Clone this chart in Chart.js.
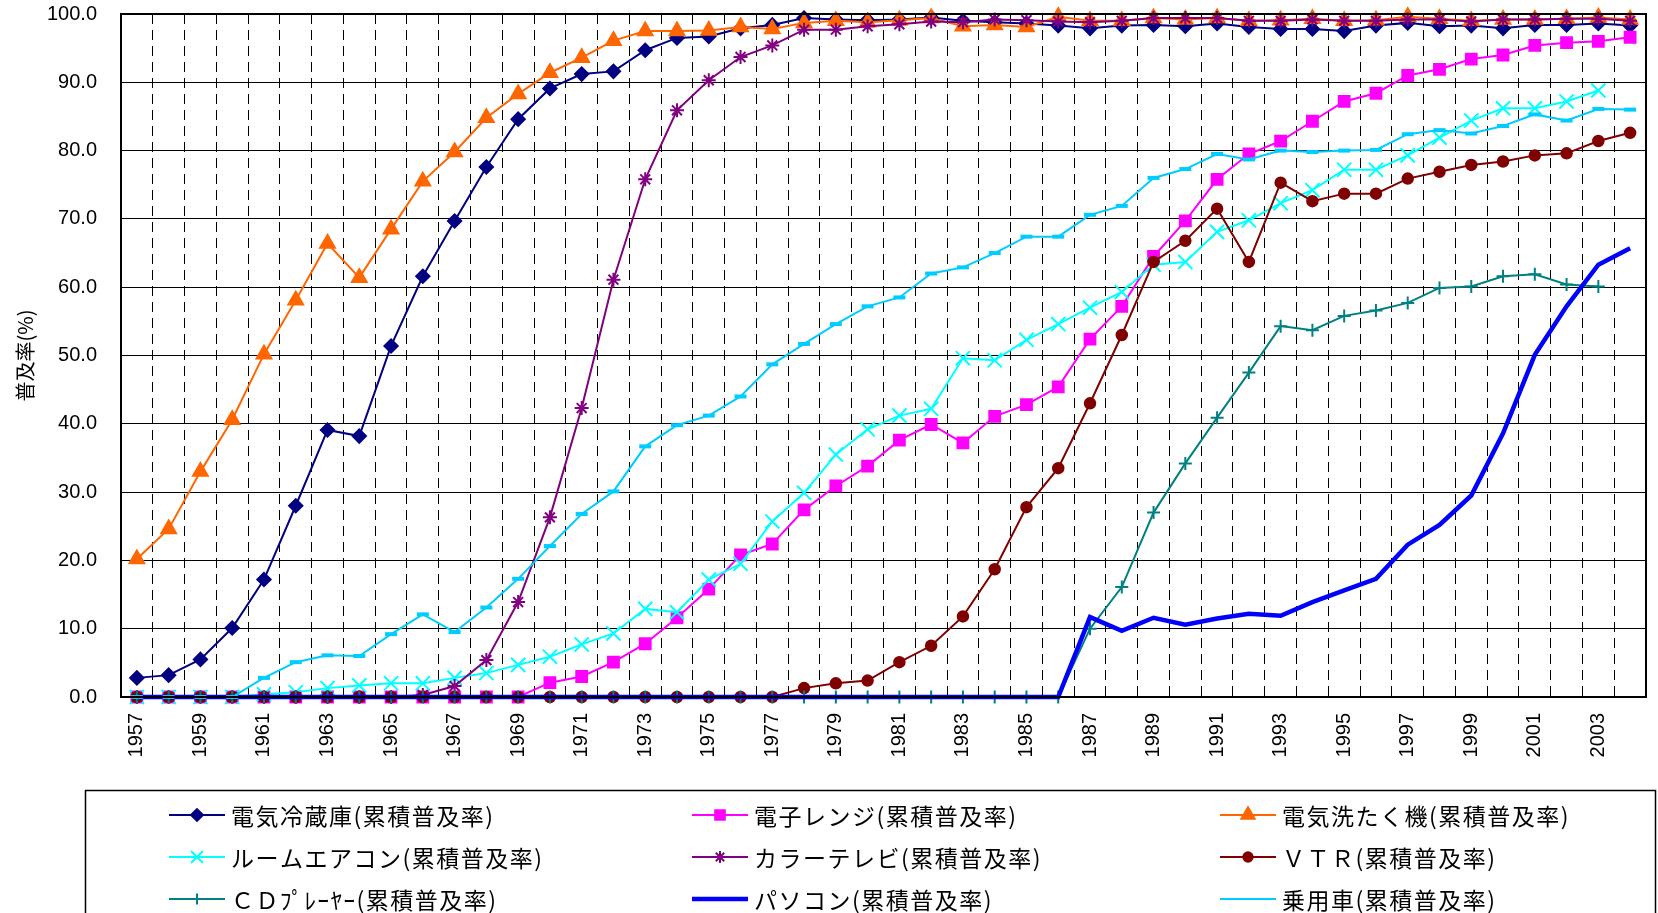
<!DOCTYPE html>
<html>
<head>
<meta charset="utf-8">
<script src="https://cdn.jsdelivr.net/npm/chart.js@4"></script>
<style>
  html, body { margin: 0; padding: 0; background: #fff; }
  #wrap { width: 1658px; height: 913px; }
</style>
</head>
<body>
<div id="wrap"><canvas id="fukyuChart" width="1658" height="913"></canvas></div>
<script>
/* ---- years ---- */
const years = [
  "1957","1958","1959","1960","1961","1962","1963","1964","1965","1966",
  "1967","1968","1969","1970","1971","1972","1973","1974","1975","1976",
  "1977","1978","1979","1980","1981","1982","1983","1984","1985","1986",
  "1987","1988","1989","1990","1991","1992","1993","1994","1995","1996",
  "1997","1998","1999","2000","2001","2002","2003","2004"
];

/* ---- series (%) ---- */
const reizouko = [2.8,3.2,5.5,10.1,17.2,28.0,39.1,38.2,51.4,61.6,
  69.7,77.6,84.6,89.1,91.2,91.6,94.7,96.5,96.7,97.9,
  98.4,99.4,99.2,99.1,99.2,99.5,99.0,98.8,98.6,98.3,
  97.9,98.3,98.4,98.2,98.6,98.1,97.8,97.8,97.5,98.3,
  98.7,98.2,98.3,97.9,98.4,98.4,98.6,98.3];
const renji = [0,0,0,0,0,0,0,0,0,0,
  0,0,0,2.1,3.0,5.1,7.8,11.6,15.8,20.8,
  22.4,27.4,30.9,33.8,37.6,39.9,37.2,41.1,42.8,45.4,
  52.4,57.2,64.5,69.7,75.8,79.5,81.4,84.3,87.2,88.4,
  91.0,91.9,93.4,94.0,95.4,95.8,96.0,96.6];
const sentakuki = [20.2,24.6,33.0,40.6,50.2,58.1,66.4,61.4,68.5,75.5,
  79.8,84.8,88.3,91.4,93.6,96.1,97.5,97.5,97.6,98.1,
  97.8,98.7,99.0,98.8,99.1,99.4,98.2,98.4,98.1,99.6,
  99.0,99.0,99.4,99.2,99.4,99.0,99.1,99.3,99.0,99.1,
  99.6,99.3,99.0,99.2,99.2,99.3,99.5,99.2];
const aircon = [0,0,0,0,0.4,0.7,1.3,1.7,2.0,2.0,
  2.8,3.5,4.7,5.9,7.7,9.3,12.9,12.4,17.2,19.5,
  25.7,29.9,35.5,39.2,41.2,42.2,49.6,49.3,52.3,54.6,
  57.0,59.3,63.3,63.7,68.1,69.8,72.3,74.2,77.2,77.2,
  79.3,81.9,84.4,86.2,86.2,87.2,88.8,null];
const colorTv = [0,0,0,0,0,0,0,0,0,0.3,
  1.6,5.4,13.9,26.3,42.3,61.1,75.8,85.9,90.3,93.7,
  95.4,97.7,97.7,98.2,98.5,98.9,98.8,99.2,99.1,98.9,
  98.8,99.0,99.4,99.4,99.4,99.0,99.0,99.2,99.0,99.0,
  99.2,99.2,98.9,99.2,99.2,99.3,99.3,99.0];
const vtr = [0,0,0,0,0,0,0,0,0,0,
  0,0,0,0,0,0,0,0,0,0,
  0,1.3,2.0,2.4,5.1,7.5,11.8,18.7,27.8,33.5,
  43.0,53.0,63.7,66.8,71.5,63.7,75.3,72.6,73.7,73.7,
  75.9,76.9,77.9,78.4,79.3,79.6,81.4,82.6];
const cdPlayer = [0,0,0,0,0,0,0,0,0,0,
  0,0,0,0,0,0,0,0,0,0,
  0,0,0,0,0,0,0,0,0,0,
  10.0,16.1,27.0,34.2,40.9,47.5,54.3,53.7,55.8,56.6,
  57.7,59.9,60.1,61.6,61.9,60.4,60.1,null];
const pasokon = [0,0,0,0,0,0,0,0,0,0,
  0,0,0,0,0,0,0,0,0,0,
  0,0,0,0,0,0,0,0,0,0,
  11.7,9.7,11.6,10.6,11.5,12.2,11.9,13.9,15.6,17.3,
  22.3,25.2,29.5,38.6,50.1,57.2,63.3,65.7];
const jouyousha = [0,0,0,0,2.8,5.1,6.1,6.0,9.2,12.1,
  9.5,13.1,17.3,22.1,26.8,30.1,36.7,39.8,41.2,44.0,
  48.7,51.7,54.6,57.2,58.5,62.0,62.9,65.0,67.4,67.4,
  70.6,71.9,76.0,77.3,79.5,78.7,80.0,79.8,80.0,80.1,
  82.4,83.0,82.5,83.6,85.3,84.4,86.1,86.0];

/* ---- y ticks ---- */
const yTicks = [0,10,20,30,40,50,60,70,80,90,100];

const suffix = "(累積普及率)";

function series(label, data, color, style, radius, extra) {
  return Object.assign({
    label: label + suffix,
    data: data,
    borderColor: color,
    backgroundColor: color,
    pointBackgroundColor: color,
    pointBorderColor: color,
    pointStyle: style,
    pointRadius: radius,
    pointHoverRadius: radius,
    pointBorderWidth: 1.5,
    borderWidth: 2,
    tension: 0,
    clip: false,
    spanGaps: false
  }, extra || {});
}

const datasets = [
  series("電気冷蔵庫", reizouko, "#000080", "rectRot", 7),
  series("電子レンジ", renji, "#FF00FF", "rect", 8),
  series("電気洗たく機", sentakuki, "#FF6600", "triangle", 9),
  series("ルームエアコン", aircon, "#00FFFF", "crossRot", 10, {pointBorderWidth: 2}),
  series("カラーテレビ", colorTv, "#800080", "star", 7, {pointBorderWidth: 2}),
  series("ＶＴＲ", vtr, "#800000", "circle", 5.5),
  series("ＣＤﾌﾟﾚｰﾔｰ", cdPlayer, "#008080", "cross", 6.5, {pointBorderWidth: 2}),
  series("パソコン", pasokon, "#0000FF", false, 0, {borderWidth: 4.5}),
  series("乗用車", jouyousha, "#00CCFF", "line", 6, {pointBorderWidth: 4})
];
// later series sit on top, like the original
datasets.forEach((d, i) => { d.order = datasets.length - i; });

/* ---- frame + 3-column legend ---- */
const framePlugin = {
  id: "frame",
  afterDraw(chart) {
    const ctx = chart.ctx;
    const a = chart.chartArea;
    ctx.save();
    ctx.strokeStyle = "#000";
    ctx.lineWidth = 2;
    ctx.strokeRect(a.left, a.top, a.right - a.left, a.bottom - a.top);

    // legend box
    ctx.lineWidth = 1.5;
    ctx.strokeStyle = "#000";
    ctx.strokeRect(85.5, 790.5, 1570, 140);

    const colX = [169, 692, 1220];
    const rowY = [815, 857, 899];
    ctx.font = "23px 'Noto Sans CJK JP'";
    if ("letterSpacing" in ctx) ctx.letterSpacing = "1.5px";
    ctx.textBaseline = "middle";
    ctx.textAlign = "left";
    chart.data.datasets.forEach((ds, i) => {
      const x = colX[i % 3];
      const y = rowY[Math.floor(i / 3)];
      ctx.strokeStyle = ds.borderColor;
      ctx.fillStyle = ds.borderColor;
      ctx.lineWidth = ds.borderWidth;
      ctx.beginPath();
      ctx.moveTo(x, y);
      ctx.lineTo(x + 56, y);
      ctx.stroke();
      if (ds.pointStyle) {
        Chart.helpers.drawPoint(ctx, {
          pointStyle: ds.pointStyle,
          radius: ds.pointRadius * 0.85,
          rotation: 0,
          borderWidth: ds.pointBorderWidth
        }, x + 28, y);
      }
      ctx.fillStyle = "#000";
      ctx.fillText(ds.label, x + 62, y + 1);
    });
    ctx.restore();
  }
};

new Chart(document.getElementById("fukyuChart"), {
  type: "line",
  data: { labels: years, datasets: datasets },
  plugins: [framePlugin],
  options: {
    responsive: false,
    animation: false,
    devicePixelRatio: 1,
    layout: { padding: { top: 13, right: 11, bottom: 0, left: 0 } },
    plugins: {
      legend: { display: false },
      tooltip: { enabled: false }
    },
    scales: {
      x: {
        type: "category",
        offset: true,
        afterFit(scale) { scale.height = 913 - 697; },
        grid: {
          offset: true,
          color: "#000",
          lineWidth: 1,
          drawTicks: true,
          tickLength: 14,
          tickColor: "rgba(0,0,0,0)"
        },
        border: { display: true, color: "#000", width: 2, dash: [10, 6] },
        ticks: {
          autoSkip: false,
          minRotation: 90,
          maxRotation: 90,
          padding: 2,
          color: "#000",
          font: { family: "'Liberation Sans', Arial", size: 20 },
          callback(val, idx) { return idx % 2 === 0 ? years[idx] : ""; }
        }
      },
      y: {
        min: 0,
        max: 100,
        afterFit(scale) { scale.width = 121; },
        afterBuildTicks(scale) { scale.ticks = yTicks.map(v => ({ value: v })); },
        grid: {
          color: "#000",
          lineWidth: 1,
          drawTicks: true,
          tickLength: 22,
          tickColor: "rgba(0,0,0,0)"
        },
        border: { display: true, color: "#000", width: 2 },
        ticks: {
          padding: 2,
          color: "#000",
          font: { family: "'Liberation Sans', Arial", size: 20 },
          callback(v) { return v.toFixed(1); }
        },
        title: {
          display: true,
          text: "普及率(%)",
          color: "#000",
          font: { family: "'Noto Sans CJK JP'", size: 20 },
          padding: { top: 13, bottom: 0 }
        }
      }
    }
  }
});
</script>
</body>
</html>
